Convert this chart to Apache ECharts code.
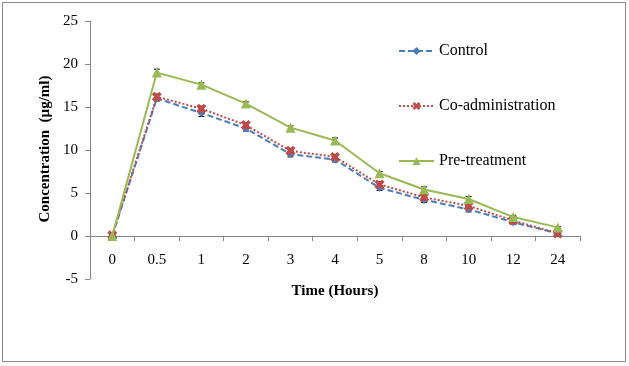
<!DOCTYPE html>
<html><head><meta charset="utf-8">
<script src="https://cdn.jsdelivr.net/npm/echarts@6/dist/echarts.min.js"></script>
<style>html,body{margin:0;padding:0;background:#fff}#c{width:629px;height:366px}</style>
</head><body><div id="c"></div>
<script>
const categories = ['0','0.5','1','2','3','4','5','8','10','12','24'];
const control = [0, 16.0, 14.3, 12.5, 9.5, 8.9, 5.6, 4.2, 3.1, 1.6, 0.3];
const coAdmin = [0.1, 16.2, 14.8, 12.9, 9.9, 9.2, 6.0, 4.5, 3.5, 1.8, 0.3];
const preTreat = [0, 19.0, 17.6, 15.4, 12.6, 11.1, 7.3, 5.4, 4.3, 2.2, 1.0];
const controlErr = [0, 0.3, 0.4, 0.3, 0.3, 0.3, 0.3, 0.3, 0.3, 0.2, 0.1];
const coAdminErr = [0, 0.3, 0.3, 0.3, 0.3, 0.3, 0.3, 0.3, 0.3, 0.2, 0.1];
const preTreatErr = [0, 0.4, 0.2, 0.2, 0.2, 0.3, 0.2, 0.3, 0.3, 0.2, 0.1];
const yTicks = [-5, 0, 5, 10, 15, 20, 25];

const font = '"Liberation Serif", "Times New Roman", serif';
const chart = echarts.init(document.getElementById('c'));

function errSeries(name, vals, errs) {
  return {
    type: 'custom', name: name + ' err', silent: true, z: 1,
    data: vals.map((v, i) => [i, v - errs[i], v + errs[i]]),
    renderItem: function (params, api) {
      const x = api.value(0);
      const lo = api.coord([x, api.value(1)]);
      const hi = api.coord([x, api.value(2)]);
      const w = 3;
      const st = {stroke: '#000', lineWidth: 1};
      return {type: 'group', children: [
        {type: 'line', shape: {x1: lo[0], y1: lo[1], x2: hi[0], y2: hi[1]}, style: st},
        {type: 'line', shape: {x1: hi[0]-w, y1: hi[1], x2: hi[0]+w, y2: hi[1]}, style: st},
        {type: 'line', shape: {x1: lo[0]-w, y1: lo[1], x2: lo[0]+w, y2: lo[1]}, style: st}
      ]};
    }
  };
}

chart.setOption({
  animation: false,
  textStyle: {fontFamily: font},
  graphic: [
    {type: 'rect', shape: {x: 2.5, y: 2.5, width: 623, height: 359}, style: {fill: 'none', stroke: '#888', lineWidth: 1}, silent: true},
    {type: 'text', x: 45, y: 149, rotation: Math.PI / 2, silent: true,
     style: {text: 'Concentration  (µg/ml)', fill: '#000', font: 'bold 15px "Liberation Serif", serif', align: 'center', verticalAlign: 'middle'}}
  ],
  grid: {left: 90, right: 49, top: 21, bottom: 87},
  legend: {
    orient: 'vertical', left: 393, top: 38, itemGap: 39, itemWidth: 35, itemHeight: 10,
    textStyle: {fontFamily: font, fontSize: 16, color: '#000'},
    data: ['Control', 'Co-administration', 'Pre-treatment']
  },
  xAxis: {
    type: 'category', data: categories, boundaryGap: true,
    name: 'Time (Hours)', nameLocation: 'middle', nameGap: 5,
    nameTextStyle: {fontFamily: font, fontSize: 15, fontWeight: 'bold', color: '#000'},
    axisLine: {onZero: true, lineStyle: {color: '#868686'}},
    axisTick: {show: true, length: 5, lineStyle: {color: '#868686'}, alignWithLabel: false},
    axisLabel: {fontFamily: font, fontSize: 15, color: '#000', margin: -26},
    splitLine: {show: false}
  },
  yAxis: {
    type: 'value', min: -5, max: 25, interval: 5,
    axisLine: {show: true, lineStyle: {color: '#868686'}},
    axisTick: {show: true, length: 5, lineStyle: {color: '#868686'}},
    axisLabel: {fontFamily: font, fontSize: 15, color: '#000', margin: 12,
      formatter: v => yTicks.includes(v) ? String(v) : ''},
    splitLine: {show: false}
  },
  series: [
    errSeries('Control', control, controlErr),
    errSeries('Co-administration', coAdmin, coAdminErr),
    errSeries('Pre-treatment', preTreat, preTreatErr),
    {name: 'Control', type: 'line', data: control, z: 3,
     symbol: 'diamond', symbolSize: 8,
     itemStyle: {color: '#4a7ebb'},
     lineStyle: {color: '#4a7ebb', width: 2, type: [6, 3]}},
    {name: 'Co-administration', type: 'line', data: coAdmin, z: 4,
     symbol: 'path://M2,0 L4,2 L6,0 L8,2 L6,4 L8,6 L6,8 L4,6 L2,8 L0,6 L2,4 L0,2 Z', symbolSize: 10,
     itemStyle: {color: '#be4b48'},
     lineStyle: {color: '#be4b48', width: 2, type: [2, 2]}},
    {name: 'Pre-treatment', type: 'line', data: preTreat, z: 5,
     symbol: 'triangle', symbolSize: 10,
     itemStyle: {color: '#98b954'},
     lineStyle: {color: '#98b954', width: 2}}
  ]
});
</script></body></html>
